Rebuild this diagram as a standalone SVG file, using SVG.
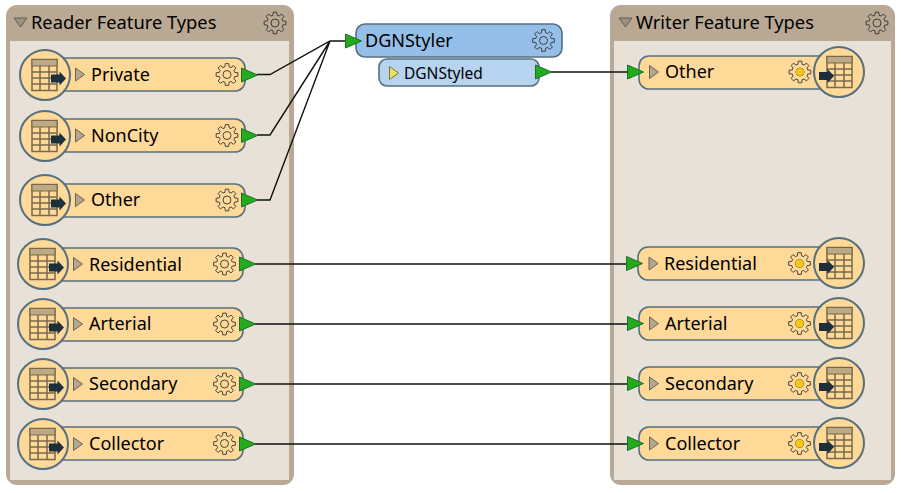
<svg xmlns="http://www.w3.org/2000/svg" width="901" height="493" viewBox="0 0 901 493">
<style>
text{font-family:"Noto Sans","DejaVu Sans",sans-serif;fill:#000;font-size:18px}
.outer{fill:#b9a994}
.inner{fill:#e7e1d8}
.bar{fill:#ffd998;stroke:#56707f;stroke-width:1.6}
.circ{fill:#ffd998;stroke:#56707f;stroke-width:2}
.tri{fill:#b5a78f;stroke:#6c6350;stroke-width:1}
.htri{fill:#9c9282;stroke:#5f5a4e;stroke-width:1}
.port{fill:#22ab1c;stroke:#1c6e2c;stroke-width:1}
.gear{fill:none;stroke:#333;stroke-width:.9}
.wire{fill:none;stroke:#111;stroke-width:1.4}
</style>
<defs>
<g id="gear"><path class="gear" d="M-2.070-7.730L-1.720-10.860H1.720L2.070-7.730L4-6.930L6.470-8.900L8.900-6.470L6.930-4L7.730-2.070L10.860-1.720V1.720L7.730 2.070L6.930 4L8.900 6.470L6.470 8.900L4 6.930L2.070 7.730L1.720 10.860H-1.720L-2.070 7.730L-4 6.930L-6.470 8.900L-8.900 6.470L-6.930 4L-7.730 2.070L-10.860 1.720V-1.720L-7.730-2.070L-6.930-4L-8.900-6.470L-6.470-8.900L-4-6.930Z"/><circle class="gear" r="4"/></g>
<g id="table"><rect x="-12.500" y="-16" width="25" height="31" fill="#ffd998" stroke="#77694e" stroke-width="1.500"/><rect x="-12.500" y="-16" width="25" height="6.500" fill="#bdaa84" stroke="#77694e" stroke-width="1"/><path d="M-12.500-3.500h25M-12.500 2.500h25M-12.500 8.500h25M-4.500-9.500v24.500M4.500-9.500v24.500" fill="none" stroke="#77694e" stroke-width="1.500"/></g>
<path id="arrow" d="M0-4h8.500v-3l6.500 7-6.500 7v-3h-8.500z" fill="#1d2f3c"/>
<path id="tri" class="tri" d="M0-6.500l9 6.500-9 6.500z"/>
<path id="port" class="port" d="M0-7l16 7-16 7z"/>
</defs>
<g id="reader-panel"><rect class="outer" x="6" y="5" width="288" height="480" rx="11"/><rect class="inner" x="10" y="41" width="279" height="439"/><path d="M14 18h13l-6.500 9z" class="htri"/><text x="31" y="29" style="font-size:18.300px">Reader Feature Types</text><use href="#gear" x="275" y="23"/></g>
<g id="writer-panel"><rect class="outer" x="610" y="5" width="285" height="480" rx="11"/><rect class="inner" x="614" y="41" width="277" height="439"/><path d="M619 18h13l-6.500 9z" class="htri"/><text x="636" y="29" style="font-size:18.300px">Writer Feature Types</text><use href="#gear" x="877" y="23"/></g>
<g id="connectors">
<path class="wire" d="M257 74.500H270L330 41H345M257 135H270L330 41M257 200H270L330 41"/>
<path class="wire" d="M551 72H627M255 264H626M255 324H627M255 384H627M255 444H627"/>
</g>
<g id="r-private"><rect class="bar" x="45" y="58" width="200" height="33" rx="10"/><circle class="circ" cx="45" cy="75" r="25"/><use href="#table" x="44.500" y="75.500"/><use href="#arrow" x="51" y="78.500"/><use href="#tri" x="75.500" y="74.500"/><text x="91" y="80.500">Private</text><use href="#gear" x="227" y="74.500"/><use href="#port" x="241.500" y="75"/></g>
<g id="r-noncity"><rect class="bar" x="45" y="119" width="200" height="33" rx="10"/><circle class="circ" cx="45" cy="136" r="25"/><use href="#table" x="44.500" y="136.500"/><use href="#arrow" x="51" y="139.500"/><use href="#tri" x="75.500" y="135.500"/><text x="91" y="141.500">NonCity</text><use href="#gear" x="227" y="135.500"/><use href="#port" x="241.500" y="135.500"/></g>
<g id="r-other"><rect class="bar" x="45" y="184" width="200" height="33" rx="10"/><circle class="circ" cx="45" cy="200" r="25"/><use href="#table" x="44.500" y="200.500"/><use href="#arrow" x="51" y="203.500"/><use href="#tri" x="75.500" y="200"/><text x="91" y="206">Other</text><use href="#gear" x="227" y="200"/><use href="#port" x="241.500" y="200"/></g>
<g id="r-residential"><rect class="bar" x="43" y="248" width="200" height="33" rx="10"/><circle class="circ" cx="43" cy="264" r="25"/><use href="#table" x="42.500" y="264.500"/><use href="#arrow" x="49" y="267.500"/><use href="#tri" x="73.500" y="264"/><text x="89" y="270.500">Residential</text><use href="#gear" x="224.500" y="264"/><use href="#port" x="239.500" y="264"/></g>
<g id="r-arterial"><rect class="bar" x="43" y="308" width="200" height="33" rx="10"/><circle class="circ" cx="43" cy="324" r="25"/><use href="#table" x="42.500" y="324.500"/><use href="#arrow" x="49" y="327.500"/><use href="#tri" x="73.500" y="324"/><text x="89" y="330">Arterial</text><use href="#gear" x="224.500" y="324"/><use href="#port" x="239.500" y="324"/></g>
<g id="r-secondary"><rect class="bar" x="43" y="368" width="200" height="33" rx="10"/><circle class="circ" cx="43" cy="384" r="25"/><use href="#table" x="42.500" y="384.500"/><use href="#arrow" x="49" y="387.500"/><use href="#tri" x="73.500" y="384"/><text x="89" y="390">Secondary</text><use href="#gear" x="224.500" y="384"/><use href="#port" x="239.500" y="384"/></g>
<g id="r-collector"><rect class="bar" x="43" y="427" width="200" height="33" rx="10"/><circle class="circ" cx="43" cy="444" r="25"/><use href="#table" x="42.500" y="444.500"/><use href="#arrow" x="49" y="447.500"/><use href="#tri" x="73.500" y="444"/><text x="89" y="450">Collector</text><use href="#gear" x="224.500" y="443.500"/><use href="#port" x="239.500" y="444"/></g>
<g id="dgnstyler"><rect x="356" y="24" width="206" height="33" rx="9" fill="#95bfe8" stroke="#56707f" stroke-width="1.600"/><use href="#gear" x="543.500" y="40.500"/><text x="365" y="47">DGNStyler</text><use href="#port" x="345.500" y="41"/>
<rect x="379" y="59" width="160" height="27" rx="8" fill="#b6d3ef" stroke="#56707f" stroke-width="1.600"/><path d="M389.500 66.500l9 6.500-9 6.500z" fill="#ece05c" stroke="#7a7340"/><text x="404" y="79" style="font-size:15.500px">DGNStyled</text><use href="#port" x="535.500" y="72"/></g>
<g id="w-other"><rect class="bar" x="639" y="56" width="200" height="33" rx="10"/><use href="#gear" x="800" y="72"/><circle cx="800" cy="72" r="4" fill="#f5c811"/><circle class="circ" cx="839" cy="72" r="25"/><use href="#table" x="839.500" y="72.500"/><use href="#arrow" x="819" y="76"/><use href="#tri" x="649.500" y="72"/><text x="665" y="78">Other</text><use href="#port" x="627.500" y="72"/></g>
<g id="w-residential"><rect class="bar" x="638" y="247" width="201" height="33" rx="10"/><use href="#gear" x="799.500" y="263.500"/><circle cx="799.500" cy="263.500" r="4" fill="#f5c811"/><circle class="circ" cx="839" cy="263" r="25"/><use href="#table" x="839.500" y="263.500"/><use href="#arrow" x="819" y="267"/><use href="#tri" x="649" y="263.500"/><text x="664" y="269.500">Residential</text><use href="#port" x="626.500" y="263.500"/></g>
<g id="w-arterial"><rect class="bar" x="639" y="307" width="200" height="33" rx="10"/><use href="#gear" x="799.500" y="323.500"/><circle cx="799.500" cy="323.500" r="4" fill="#f5c811"/><circle class="circ" cx="839" cy="323" r="25"/><use href="#table" x="839.500" y="323.500"/><use href="#arrow" x="819" y="327"/><use href="#tri" x="649.500" y="323.500"/><text x="665" y="329.500">Arterial</text><use href="#port" x="627.500" y="323.500"/></g>
<g id="w-secondary"><rect class="bar" x="639" y="367" width="200" height="33" rx="10"/><use href="#gear" x="799.500" y="383.500"/><circle cx="799.500" cy="383.500" r="4" fill="#f5c811"/><circle class="circ" cx="839" cy="383" r="25"/><use href="#table" x="839.500" y="383.500"/><use href="#arrow" x="819" y="387"/><use href="#tri" x="649.500" y="383.500"/><text x="665" y="389.500">Secondary</text><use href="#port" x="627.500" y="383.500"/></g>
<g id="w-collector"><rect class="bar" x="639" y="427" width="200" height="33" rx="10"/><use href="#gear" x="799.500" y="443.500"/><circle cx="799.500" cy="443.500" r="4" fill="#f5c811"/><circle class="circ" cx="839" cy="443" r="25"/><use href="#table" x="839.500" y="443.500"/><use href="#arrow" x="819" y="447"/><use href="#tri" x="649.500" y="443.500"/><text x="665" y="449.500">Collector</text><use href="#port" x="627.500" y="443.500"/></g>
</svg>
